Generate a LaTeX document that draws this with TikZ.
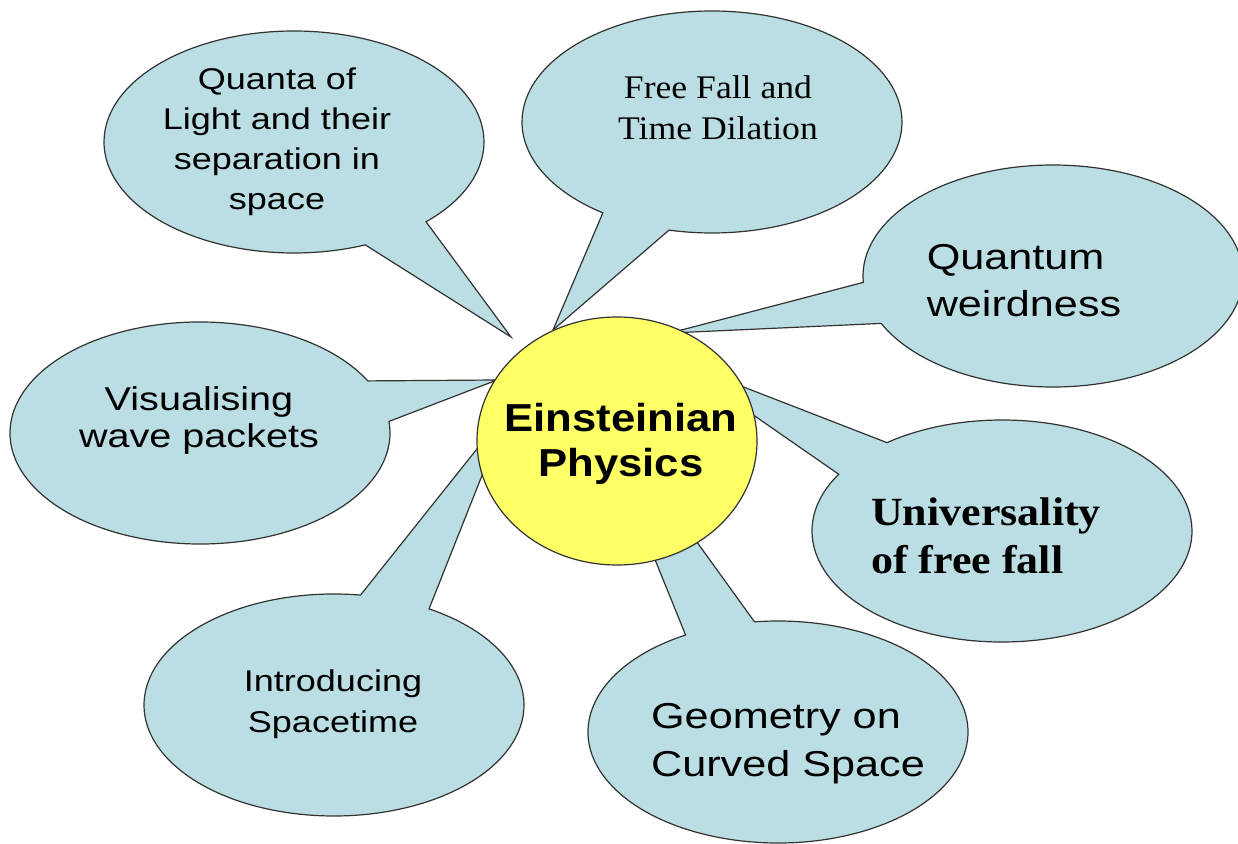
\documentclass[tikz,border=0pt]{standalone}
\usepackage{fontspec}
\usepackage{xcolor}
\usetikzlibrary{shapes.geometric,shapes.callouts}

\newfontfamily\wideSans[FakeStretch=1.2]{Liberation Sans}
\newfontfamily\hubSans[FakeStretch=1.12]{Liberation Sans}
\newfontfamily\wideSerif[FakeStretch=1.08]{Liberation Serif}
\newfontfamily\boldSerif[FakeStretch=1.1]{Liberation Serif}

\definecolor{bubblefill}{RGB}{186,222,227}
\definecolor{sunny}{RGB}{255,255,102}
\definecolor{rim}{RGB}{50,50,50}

\begin{document}
\begin{tikzpicture}[x=0.5pt,y=-0.5pt,
  bubble/.style={ellipse callout, draw=rim, fill=bubblefill, line width=0.6pt,
    minimum width=190pt, minimum height=111pt, inner sep=0pt, callout pointer arc=22},
  hub/.style={ellipse, draw=rim, fill=sunny, line width=0.6pt,
    minimum width=140pt, minimum height=124pt, inner sep=0pt},
  words/.style={align=center, inner sep=0pt}]

\useasboundingbox (0,0) rectangle (1238,844);

% where the pointers end
\coordinate (quantatip) at (511,337);
\coordinate (falltip) at (553,330);
\coordinate (weirdtip) at (670,333);
\coordinate (wavetip) at (497,380);
\coordinate (unitip) at (674,360);
\coordinate (geomtip) at (585,387);
\coordinate (introtip) at (508,410);

\node[bubble, callout absolute pointer={(quantatip)}] (quanta) at (294,142) {};
\node[bubble, callout absolute pointer={(falltip)}] (fall) at (712,122) {};
\node[bubble, callout absolute pointer={(weirdtip)}] (weird) at (1053,276) {};
\node[bubble, callout absolute pointer={(wavetip)}] (wave) at (200,433) {};
\node[bubble, callout absolute pointer={(unitip)}] (uni) at (1002,531) {};
\node[bubble, callout absolute pointer={(geomtip)}] (geom) at (778,732) {};
\node[bubble, callout absolute pointer={(introtip)}] (intro) at (334,705) {};

\node[hub] (einstein) at (617,441) {};

\node[words, font=\wideSans\fontsize{15pt}{20pt}\selectfont] (quantatext) at (277,142)
  {Quanta of\\Light and their\\separation in\\space};
\node[words, font=\wideSerif\fontsize{16.5pt}{20.5pt}\selectfont] (falltext) at (718,108)
  {Free Fall and\\Time Dilation};
\node[words, align=left, font=\wideSans\fontsize{18pt}{23.5pt}\selectfont] (weirdtext) at (1024,281)
  {Quantum\\weirdness};
\node[words, font=\wideSans\fontsize{16.5pt}{18.5pt}\selectfont] (wavetext) at (199,420)
  {Visualising\\wave packets};
\node[words, align=left, font=\boldSerif\bfseries\fontsize{20pt}{24pt}\selectfont] (unitext) at (986,536)
  {Universality\\of free fall};
\node[words, align=left, font=\wideSans\fontsize{18pt}{24pt}\selectfont] (geomtext) at (788,744)
  {Geometry on\\Curved Space};
\node[words, font=\wideSans\fontsize{15pt}{20.5pt}\selectfont] (introtext) at (333,704)
  {Introducing\\Spacetime};
\node[words, font=\hubSans\bfseries\fontsize{19.5pt}{22.5pt}\selectfont] (einsteintext) at (621,444)
  {Einsteinian\\Physics};

\end{tikzpicture}
\end{document}
